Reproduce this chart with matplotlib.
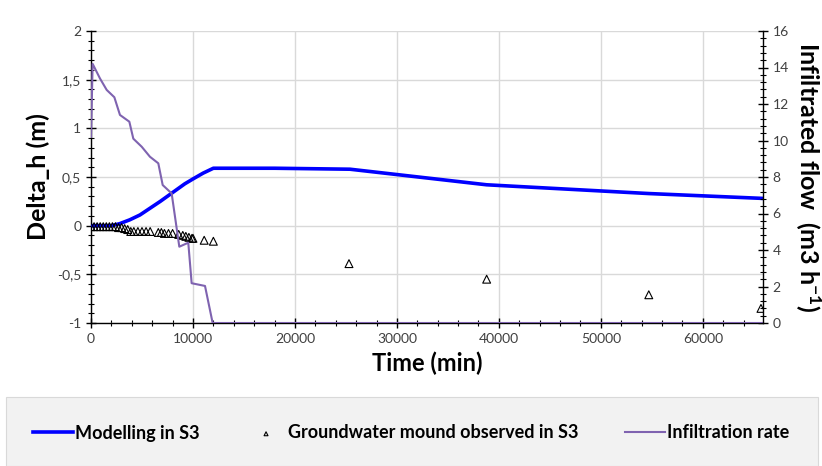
"""
Groundwater mound in S3: modelled vs observed Delta_h, with infiltration rate.
"""

import matplotlib
import matplotlib.pyplot as plt
import matplotlib.ticker as mticker

matplotlib.use("Agg")

# modelled Delta_h (m)
MODEL_T = [0, 1000, 2000, 2800, 3800, 4800, 5800, 6800, 7600, 8400, 9200,
           10000, 11000, 12000, 18000, 25400, 38800, 54700, 65900]
MODEL_H = [0.0, 0.0, 0.0, 0.02, 0.06, 0.11, 0.18, 0.25, 0.31, 0.37, 0.43,
           0.48, 0.54, 0.59, 0.59, 0.58, 0.42, 0.33, 0.28]

# observed groundwater mound (m)
OBS_T = [0, 300, 600, 900, 1200, 1500, 1800, 2100, 2400, 2700, 3000, 3300,
         3600, 3900, 4200, 4600, 5000, 5400, 5800, 6600, 6900, 7200, 7600,
         8000, 8600, 9000, 9300, 9600, 9900, 10000, 11100, 12000,
         25300, 38800, 54700, 65700]
OBS_H = [-0.01, -0.01, -0.01, -0.01, -0.01, -0.01, -0.01, -0.01, -0.01,
         -0.02, -0.02, -0.03, -0.04, -0.06, -0.06, -0.06, -0.06, -0.06,
         -0.06, -0.07, -0.07, -0.08, -0.08, -0.08, -0.09, -0.10, -0.11,
         -0.12, -0.13, -0.13, -0.15, -0.16, -0.39, -0.55, -0.71, -0.85]

# infiltration rate (m3/h)
INF_T = [0, 160, 880, 1540, 2290, 2840, 3760, 4150, 4970, 5780, 6600, 7030,
         7910, 8660, 9540, 9870, 11180, 11930, 65900]
INF_Q = [10.2, 14.2, 13.4, 12.77, 12.37, 11.4, 11.03, 10.1, 9.66, 9.11,
         8.75, 7.56, 7.1, 4.18, 4.4, 2.18, 2.03, 0.0, 0.0]

LEFT_TICKS = [-1, -0.5, 0, 0.5, 1, 1.5, 2]
FONT = ["Lato", "DejaVu Sans"]


def comma_fmt(v, _pos):
    s = f"{v:g}"
    return s.replace(".", ",")


plt.rcParams["font.family"] = FONT
plt.rcParams["mathtext.fontset"] = "custom"
plt.rcParams["mathtext.rm"] = "Lato"
plt.rcParams["mathtext.bf"] = "Lato:bold"

fig = plt.figure(figsize=(8.22, 4.66), dpi=100)
ax = fig.add_axes([91 / 822, 1 - 323 / 466, (763 - 91) / 822, (323 - 31) / 466])
ax2 = ax.twinx()

ax.plot(MODEL_T, MODEL_H, color="#0000ff", linewidth=2.6, zorder=3,
        label="Modelling in S3")
ax.scatter(OBS_T, OBS_H, marker="^", s=32, facecolors="none",
           edgecolors="black", linewidths=0.8, zorder=4,
           label="Groundwater mound observed in S3")
ax2.plot(INF_T, INF_Q, color="#7f63b0", linewidth=1.5,
         label="Infiltration rate")

ax.set_xlim(0, 65900)
ax.set_ylim(-1, 2)
ax2.set_ylim(0, 16)

ax.set_xticks(range(0, 60001, 10000))
ax.xaxis.set_minor_locator(mticker.MultipleLocator(2000))
ax.set_yticks(LEFT_TICKS)
ax.yaxis.set_minor_locator(mticker.MultipleLocator(0.1))
ax.yaxis.set_major_formatter(mticker.FuncFormatter(comma_fmt))
ax2.set_yticks(range(0, 17, 2))
ax2.yaxis.set_minor_locator(mticker.MultipleLocator(0.4))

ax.grid(which="major", color="#d9d9d9", linewidth=1.0)
ax.set_axisbelow(True)

for a in (ax, ax2):
    a.tick_params(which="major", direction="inout", length=7, width=1,
                  labelsize=10, labelcolor="#404040")
    a.tick_params(which="minor", direction="inout", length=4, width=0.8)
    a.spines["top"].set_visible(False)
    for s in ("left", "right", "bottom"):
        a.spines[s].set_color("black")
        a.spines[s].set_linewidth(1.0)
ax.spines["right"].set_visible(False)
ax2.spines["left"].set_visible(False)
ax2.spines["bottom"].set_visible(False)

ax.set_xlabel("Time (min)", fontsize=17, fontweight="bold", labelpad=5)
ax.set_ylabel("Delta_h (m)", fontsize=18, fontweight="bold", labelpad=5)
ax2.set_ylabel("Infiltrated flow  (m3 h$\\mathbf{^{-1}}$)", fontsize=18,
               fontweight="bold", rotation=-90, labelpad=24)

# legend band at the bottom
band = plt.Rectangle((6 / 822, 0), 812 / 822, 69 / 466,
                     transform=fig.transFigure, facecolor="#f2f2f2",
                     edgecolor="#d9d9d9", linewidth=0.8, zorder=0)
fig.patches.append(band)

h1, l1 = ax.get_legend_handles_labels()
h2, l2 = ax2.get_legend_handles_labels()
leg = fig.legend(h1 + h2, l1 + l2, loc="center", ncol=3,
                 bbox_to_anchor=(0.5, 33 / 466), frameon=False,
                 prop={"family": FONT, "size": 13, "weight": "bold"},
                 handlelength=2.2, handletextpad=0.1, columnspacing=2.6,
                 markerscale=0.5)

fig.savefig("out.png", dpi=100)
plt.close(fig)
